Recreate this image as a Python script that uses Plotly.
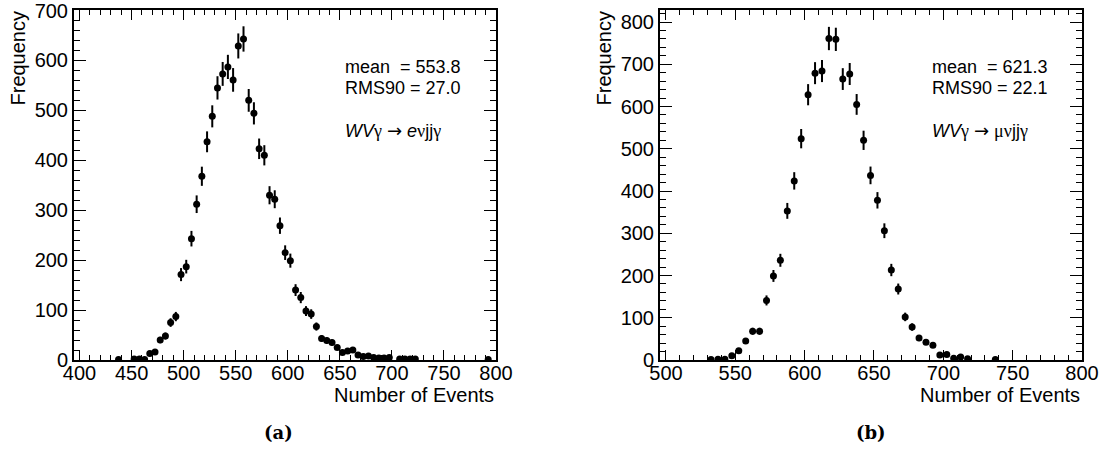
import numpy as np
import plotly.graph_objects as go

W, H = 1102, 456

# Panel (a): WVγ → eνjjγ, bin centres and counts (empty bins omitted)
e_bins = [437.5, 452.5, 457.5, 462.5, 467.5, 472.5, 477.5, 482.5, 487.5, 492.5,
          497.5, 502.5, 507.5, 512.5, 517.5, 522.5, 527.5, 532.5, 537.5, 542.5,
          547.5, 552.5, 557.5, 562.5, 567.5, 572.5, 577.5, 582.5, 587.5, 592.5,
          597.5, 602.5, 607.5, 612.5, 617.5, 622.5, 627.5, 632.5, 637.5, 642.5,
          647.5, 652.5, 657.5, 662.5, 667.5, 672.5, 677.5, 682.5, 687.5, 692.5,
          697.5, 707.5, 712.5, 717.5, 722.5, 792.5]
e_counts = [1, 2, 2, 1, 13, 16, 40, 48, 75, 87,
            171, 187, 243, 312, 368, 437, 488, 545, 573, 587,
            561, 629, 643, 520, 494, 423, 410, 330, 322, 269,
            215, 199, 140, 125, 98, 92, 67, 43, 39, 35,
            25, 15, 18, 20, 10, 7, 8, 5, 4, 4,
            5, 2, 2, 2, 2, 1]

# Panel (b): WVγ → μνjjγ
mu_bins = [532.5, 537.5, 542.5, 547.5, 552.5, 557.5, 562.5, 567.5, 572.5, 577.5,
           582.5, 587.5, 592.5, 597.5, 602.5, 607.5, 612.5, 617.5, 622.5, 627.5,
           632.5, 637.5, 642.5, 647.5, 652.5, 657.5, 662.5, 667.5, 672.5, 677.5,
           682.5, 687.5, 692.5, 697.5, 702.5, 707.5, 712.5, 717.5, 737.5]
mu_counts = [1, 2, 2, 10, 22, 45, 68, 68, 141, 199,
             236, 353, 424, 524, 628, 679, 684, 761, 759, 665,
             677, 605, 520, 437, 378, 306, 213, 168, 102, 78,
             52, 42, 35, 12, 13, 4, 7, 3, 1]

x_ticks = [400, 450, 500, 550, 600, 650, 700, 750, 800]
x_ticks_b = [500, 550, 600, 650, 700, 750, 800]
x_title = "Number of Events"
y_title = "Frequency"
stats_a = ["mean\u00a0\u00a0= 553.8", "RMS90 = 27.0"]
stats_b = ["mean\u00a0\u00a0= 621.3", "RMS90 = 22.1"]

GR = '<span style="font-family:Liberation Serif">{}</span>'
AR = '<span style="font-family:DejaVu Sans">→</span>'
label_a = "<i>WV</i>" + GR.format("γ") + " " + AR + " <i>e</i>" + GR.format("ν") + "jj" + GR.format("γ")
label_b = "<i>WV</i>" + GR.format("γ") + " " + AR + " " + GR.format("μν") + "jj" + GR.format("γ")
captions = ["(a)", "(b)"]

FONT = "Liberation Sans, Arial, Helvetica, sans-serif"


def px(x):
    return x / W


def py(y):
    return 1 - y / H


fig = go.Figure()

for bins, counts, xa, ya in [(e_bins, e_counts, "x", "y"), (mu_bins, mu_counts, "x2", "y2")]:
    c = np.array(counts, dtype=float)
    fig.add_trace(go.Scatter(
        x=bins, y=counts, mode="markers", xaxis=xa, yaxis=ya,
        marker=dict(color="black", size=7),
        error_y=dict(type="data", array=np.sqrt(c), visible=True,
                     color="black", thickness=2, width=0),
        showlegend=False, hoverinfo="x+y",
    ))

ydom = [py(360), py(10)]


def xaxis(dom, rng, ticks, anchor):
    return dict(domain=dom, range=rng, tickvals=ticks, ticks="inside", ticklen=10,
                tickwidth=1.2, tickcolor="black", showline=True, linecolor="black",
                linewidth=2, mirror="allticks", showgrid=False, zeroline=False,
                automargin=False, anchor=anchor, ticklabelstandoff=-6,
                ticklabeloverflow="allow",
                tickfont=dict(family=FONT, size=20, color="black"),
                minor=dict(dtick=10, tick0=0, ticks="inside", ticklen=5, tickcolor="black",
                           tickwidth=1, showgrid=False))


def yaxis(rng, dtick, anchor):
    return dict(domain=ydom, range=rng, dtick=dtick, tick0=0, ticks="inside", ticklen=12,
                tickwidth=1.2, tickcolor="black", showline=True, linecolor="black",
                linewidth=2, mirror="allticks", showgrid=False, zeroline=False,
                automargin=False, anchor=anchor, ticklabeloverflow="allow",
                tickfont=dict(family=FONT, size=20, color="black"),
                minor=dict(dtick=20, tick0=0, ticks="inside", ticklen=6, tickcolor="black",
                           tickwidth=1, showgrid=False))


fig.update_layout(
    template="none",
    width=W, height=H, margin=dict(l=0, r=0, t=0, b=0, pad=0),
    paper_bgcolor="white", plot_bgcolor="white",
    xaxis=xaxis([px(74), px(496)], [394.7, 800], x_ticks, "y"),
    yaxis=yaxis([0, 701], 100, "x"),
    xaxis2=xaxis([px(660), px(1082)], [495.7, 800], x_ticks_b, "y2"),
    yaxis2=yaxis([0, 828.5], 100, "x2"),
)

ann = []
txt = dict(family=FONT, size=20, color="black")
for xr, x0 in [(496, 74), (1082, 660)]:
    ann.append(dict(text=x_title, x=px(xr), y=py(395), xref="paper", yref="paper",
                    xanchor="right", yanchor="middle", showarrow=False, font=txt))
    ann.append(dict(text=y_title, x=px(x0 - 57), y=py(9), xref="paper", yref="paper",
                    xanchor="center", yanchor="top", textangle=-90, showarrow=False, font=txt))

sfont = dict(family=FONT, size=18, color="black")
for x0, stats, lab in [(343, stats_a, label_a), (930, stats_b, label_b)]:
    for yy, s in zip([67, 88], stats):
        ann.append(dict(text=s, x=px(x0), y=py(yy), xref="paper", yref="paper",
                        xanchor="left", yanchor="middle", showarrow=False, font=sfont))
    ann.append(dict(text=lab, x=px(x0), y=py(130), xref="paper", yref="paper",
                    xanchor="left", yanchor="middle", showarrow=False, font=sfont))

cfont = dict(family="DejaVu Serif, serif", size=18, color="black")
for xc, cap in zip([278, 871], captions):
    ann.append(dict(text="<b>" + cap + "</b>", x=px(xc), y=py(432), xref="paper", yref="paper",
                    xanchor="center", yanchor="middle", showarrow=False, font=cfont))

fig.update_layout(annotations=ann)
fig.write_html("out.html")
